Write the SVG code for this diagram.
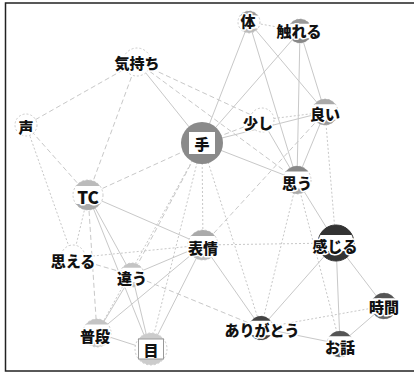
<svg xmlns="http://www.w3.org/2000/svg" width="414" height="376" viewBox="0 0 414 376">
<style>
.e{stroke:#c8c8c8;stroke-width:1;fill:none}
.d{stroke-dasharray:5 3}
.p{stroke-dasharray:2 2}
.o{fill:#fff;stroke:#cbcbcb;stroke-width:1;stroke-dasharray:2 2}
.t{font-family:"Noto Sans CJK JP","Noto Sans",sans-serif;font-size:15px;font-weight:900;fill:#111;text-anchor:middle;dominant-baseline:central;stroke:#fff;stroke-width:3;stroke-linejoin:round;paint-order:stroke}
</style>
<rect x="0" y="0" width="414" height="376" fill="#fff"/>
<rect x="5.5" y="3" width="420" height="368" fill="none" stroke="#222" stroke-width="1.5"/>
<g id="edges">
<line class="e" x1="137" y1="62" x2="202" y2="143"/>
<line class="e" x1="249" y1="22" x2="202" y2="143"/>
<line class="e" x1="249" y1="22" x2="297" y2="180"/>
<line class="e" x1="249" y1="22" x2="325" y2="112"/>
<line class="e" x1="300" y1="31" x2="202" y2="143"/>
<line class="e" x1="300" y1="31" x2="297" y2="180"/>
<line class="e" x1="300" y1="31" x2="325" y2="112"/>
<line class="e" x1="202" y1="143" x2="325" y2="112"/>
<line class="e" x1="202" y1="143" x2="297" y2="180"/>
<line class="e" x1="262" y1="120" x2="297" y2="180"/>
<line class="e" x1="325" y1="112" x2="297" y2="180"/>
<line class="e" x1="297" y1="180" x2="336" y2="243"/>
<line class="e" x1="88" y1="195" x2="132" y2="275"/>
<line class="e" x1="88" y1="195" x2="150" y2="350"/>
<line class="e" x1="88" y1="195" x2="203" y2="245"/>
<line class="e" x1="132" y1="275" x2="203" y2="245"/>
<line class="e" x1="132" y1="275" x2="97" y2="333"/>
<line class="e" x1="132" y1="275" x2="150" y2="350"/>
<line class="e" x1="97" y1="333" x2="203" y2="245"/>
<line class="e" x1="97" y1="333" x2="150" y2="350"/>
<line class="e" x1="150" y1="350" x2="203" y2="245"/>
<line class="e" x1="203" y1="245" x2="261" y2="328"/>
<line class="e" x1="336" y1="243" x2="261" y2="328"/>
<line class="e" x1="336" y1="243" x2="384" y2="306"/>
<line class="e" x1="336" y1="243" x2="340" y2="344"/>
<line class="e" x1="384" y1="306" x2="340" y2="344"/>
<line class="e" x1="261" y1="328" x2="340" y2="344"/>
<line class="e d" x1="137" y1="62" x2="26" y2="125"/>
<line class="e d" x1="137" y1="62" x2="88" y2="195"/>
<line class="e d" x1="137" y1="62" x2="262" y2="120"/>
<line class="e d" x1="137" y1="62" x2="297" y2="180"/>
<line class="e d" x1="26" y1="125" x2="88" y2="195"/>
<line class="e d" x1="88" y1="195" x2="202" y2="143"/>
<line class="e d" x1="88" y1="195" x2="97" y2="333"/>
<line class="e d" x1="73" y1="258" x2="132" y2="275"/>
<line class="e d" x1="202" y1="143" x2="262" y2="120"/>
<line class="e d" x1="132" y1="275" x2="261" y2="328"/>
<line class="e d" x1="132" y1="275" x2="202" y2="143"/>
<line class="e d" x1="203" y1="245" x2="325" y2="112"/>
<line class="e p" x1="26" y1="125" x2="73" y2="258"/>
<line class="e p" x1="88" y1="195" x2="73" y2="258"/>
<line class="e p" x1="249" y1="22" x2="300" y2="31"/>
<line class="e p" x1="262" y1="120" x2="325" y2="112"/>
<line class="e p" x1="73" y1="258" x2="203" y2="245"/>
<line class="e p" x1="202" y1="143" x2="203" y2="245"/>
<line class="e p" x1="202" y1="143" x2="150" y2="350"/>
<line class="e p" x1="202" y1="143" x2="261" y2="328"/>
<line class="e p" x1="202" y1="143" x2="97" y2="333"/>
<line class="e p" x1="203" y1="245" x2="336" y2="243"/>
<line class="e p" x1="297" y1="180" x2="261" y2="328"/>
<line class="e p" x1="297" y1="180" x2="340" y2="344"/>
<line class="e p" x1="325" y1="112" x2="336" y2="243"/>
<line class="e p" x1="384" y1="306" x2="261" y2="328"/>
</g>
<g id="n-kimochi"><circle class="o" cx="137" cy="62" r="14"/><text class="t" x="137" y="62">気持ち</text></g>
<g id="n-koe"><circle class="o" cx="26" cy="125" r="11"/><text class="t" x="26" y="126">声</text></g>
<g id="n-te"><circle cx="202" cy="143" r="21" fill="#8a8a8a"/><rect x="189" y="132" width="26" height="22" fill="#fff"/><text class="t" x="202" y="143" style="stroke:none">手</text></g>
<g id="n-karada"><circle class="o" cx="249" cy="22" r="11"/><path d="M240.2,15.4A11,11 0 0 1 257.8,15.4Z" fill="#9a9a9a"/><path d="M240.2,28.6A11,11 0 0 0 257.8,28.6Z" fill="#bbb"/><text class="t" x="248" y="20">体</text></g>
<g id="n-fureru"><circle class="o" cx="300" cy="31" r="12"/><path d="M290.4,23.8A12,12 0 0 1 309.6,23.8Z" fill="#999"/><path d="M290.4,38.2A12,12 0 0 0 309.6,38.2Z" fill="#888"/><text class="t" x="299" y="30">触れる</text></g>
<g id="n-sukoshi"><circle class="o" cx="262" cy="120" r="12"/><text class="t" x="258" y="122">少し</text></g>
<g id="n-yoi"><circle class="o" cx="325" cy="112" r="13"/><path d="M314.6,104.2A13,13 0 0 1 335.4,104.2Z" fill="#aaa"/><path d="M314.6,119.8A13,13 0 0 0 335.4,119.8Z" fill="#999"/><text class="t" x="325" y="113">良い</text></g>
<g id="n-omou"><circle class="o" cx="297" cy="180" r="14"/><path d="M285.8,171.6A14,14 0 0 1 308.2,171.6Z" fill="#888"/><path d="M285.8,188.4A14,14 0 0 0 308.2,188.4Z" fill="#aaa"/><text class="t" x="297" y="182">思う</text></g>
<g id="n-tc"><circle class="o" cx="88" cy="195" r="15"/><path d="M76,186A15,15 0 0 1 100,186Z" fill="#bbb"/><path d="M76,204A15,15 0 0 0 100,204Z" fill="#aaa"/><text class="t" x="88" y="196" style="font-size:17px">TC</text></g>
<g id="n-omoeru"><circle class="o" cx="73" cy="257" r="12"/><text class="t" x="73" y="260">思える</text></g>
<g id="n-chigau"><circle class="o" cx="132" cy="275" r="12"/><path d="M122.4,267.8A12,12 0 0 1 141.6,267.8Z" fill="#c4c4c4"/><path d="M122.4,282.2A12,12 0 0 0 141.6,282.2Z" fill="#bbb"/><text class="t" x="132" y="277">違う</text></g>
<g id="n-hyoujou"><circle class="o" cx="203" cy="245" r="15"/><path d="M191,236A15,15 0 0 1 215,236Z" fill="#aaa"/><path d="M191,254A15,15 0 0 0 215,254Z" fill="#bbb"/><text class="t" x="203" y="247">表情</text></g>
<g id="n-kanjiru"><circle cx="336" cy="243" r="18" fill="#fff" stroke="#333"/><path d="M319.9,235A18,18 0 0 1 352.1,235Z" fill="#333"/><path d="M319.9,251A18,18 0 0 0 352.1,251Z" fill="#333"/><text class="t" x="335" y="245">感じる</text></g>
<g id="n-jikan"><circle class="o" cx="384" cy="306" r="13"/><path d="M373.6,298.2A13,13 0 0 1 394.4,298.2Z" fill="#555"/><path d="M373.6,313.8A13,13 0 0 0 394.4,313.8Z" fill="#666"/><text class="t" x="384" y="306">時間</text></g>
<g id="n-arigatou"><circle class="o" cx="261" cy="328" r="12"/><path d="M251.4,320.8A12,12 0 0 1 270.6,320.8Z" fill="#444"/><path d="M251.4,335.2A12,12 0 0 0 270.6,335.2Z" fill="#444"/><text class="t" x="262" y="329">ありがとう</text></g>
<g id="n-ohanashi"><circle class="o" cx="340" cy="344" r="13"/><path d="M329.6,336.2A13,13 0 0 1 350.4,336.2Z" fill="#555"/><path d="M329.6,351.8A13,13 0 0 0 350.4,351.8Z" fill="#555"/><text class="t" x="340" y="346">お話</text></g>
<g id="n-fudan"><circle class="o" cx="97" cy="333" r="14"/><path d="M85.8,324.6A14,14 0 0 1 108.2,324.6Z" fill="#c4c4c4"/><path d="M85.8,341.4A14,14 0 0 0 108.2,341.4Z" fill="#c8c8c8"/><text class="t" x="95" y="335">普段</text></g>
<g id="n-me"><circle class="o" cx="151" cy="349" r="16"/><path d="M138.2,339.4A16,16 0 0 1 163.8,339.4Z" fill="#ccc"/><path d="M138.2,358.6A16,16 0 0 0 163.8,358.6Z" fill="#ccc"/><rect x="138.5" y="339" width="25" height="20" fill="#fff" stroke="#999"/><text class="t" x="151" y="349" style="stroke:none">目</text></g>
</svg>
